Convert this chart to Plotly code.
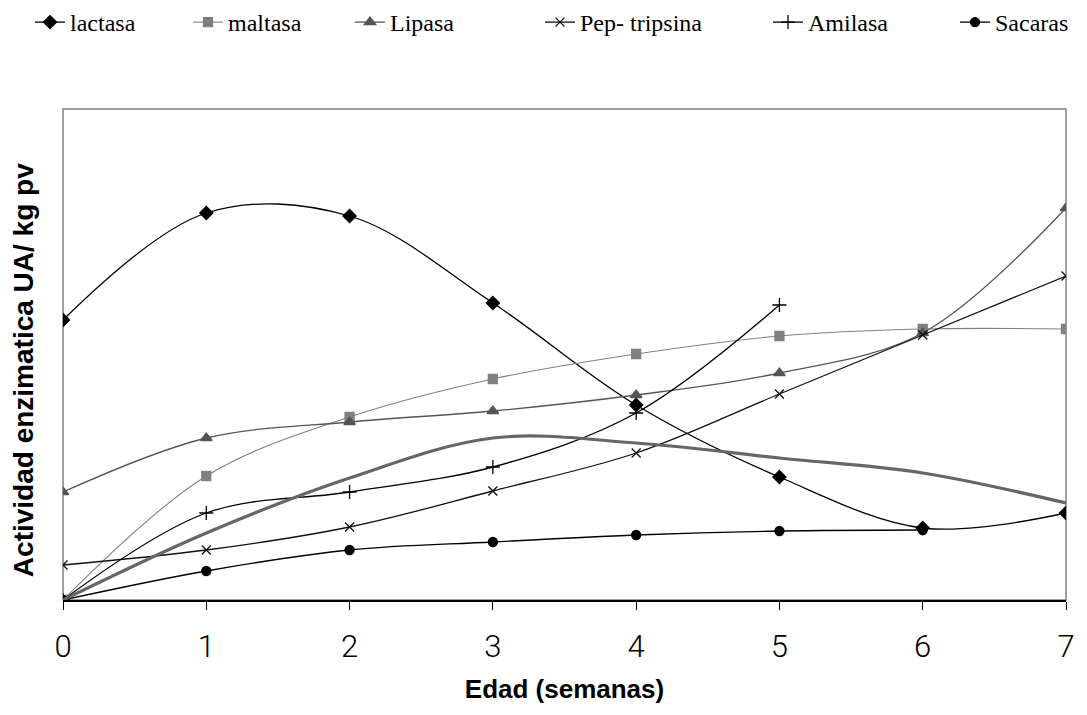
import plotly.graph_objects as go

semanas = [0, 1, 2, 3, 4, 5, 6, 7]

lactasa = [280, 387, 384, 297, 195, 123, 72, 87]
maltasa = [0, 124, 183, 221, 246, 264, 271, 271]
lipasa = [108, 162, 178, 189, 205, 227, 267, 392]
pep_tripsina = [35, 50, 73, 109, 147, 206, 265, 324]
amilasa = [0, 87, 108, 133, 187, 295]
sacarasa = [0, 29, 50, 58, 65, 69, 70]
total = [0, 67, 122, 162, 157, 142, 127, 97]

W, H = 1087, 715
fig = go.Figure()

# each legend entry gets its own legend box so the row spans the full width
leyenda_x = {"legend": 30, "legend2": 188, "legend3": 350,
             "legend4": 540, "legend5": 768, "legend6": 955}

def serie(nombre, y, color, simbolo, size=9, ancho=1.3, leyenda=None):
    fig.add_trace(go.Scatter(
        x=semanas[:len(y)], y=y, name=nombre,
        mode="lines+markers" if simbolo else "lines",
        line=dict(color=color, width=ancho, shape="spline", smoothing=1.0),
        marker=dict(symbol=simbolo or "circle", size=size, color=color,
                    line=dict(color=color, width=1.3)),
        showlegend=leyenda is not None,
        legend=leyenda or "legend",
    ))

serie("lactasa", lactasa, "#000000", "diamond", 10, leyenda="legend")
serie("maltasa", maltasa, "#808080", "square", 9, ancho=1.1, leyenda="legend2")
serie("Lipasa", lipasa, "#555555", "triangle-up", 10, leyenda="legend3")
serie("Pep- tripsina", pep_tripsina, "#111111", "x-thin", 9, leyenda="legend4")
serie("Amilasa", amilasa, "#000000", "cross-thin", 10, leyenda="legend5")
serie("Sacaras", sacarasa, "#000000", "circle", 9, leyenda="legend6")
serie("Total", total, "#666666", None, ancho=3.2)

leg_font = dict(family="Liberation Serif, serif", size=24, color="#000")
for key, px in leyenda_x.items():
    fig.update_layout({key: dict(
        orientation="h", x=px / W, xanchor="left", xref="container",
        y=1.0, yref="container", yanchor="top",
        font=leg_font, bgcolor="rgba(0,0,0,0)", itemwidth=30,
    )})

tick_font = dict(family="Roboto, Liberation Sans, sans-serif",
                 size=31, color="#000", weight=300)

fig.update_layout(
    width=W, height=H,
    margin=dict(l=63, r=17, t=109, b=115),
    plot_bgcolor="white", paper_bgcolor="white",
    showlegend=True,
    xaxis=dict(
        range=[0, 7], tickmode="array", tickvals=semanas,
        ticks="outside", ticklen=8, tickcolor="#000", tickwidth=1,
        tickfont=tick_font, ticklabelstandoff=10,
        showgrid=False, zeroline=False,
        showline=True, linecolor="#000", linewidth=1.5,
        title=dict(text="<b>Edad (semanas)</b>",
                   font=dict(family="Liberation Sans", size=26, color="#000"),
                   standoff=16),
    ),
    yaxis=dict(
        range=[0, 491], showticklabels=False, ticks="",
        showgrid=False, zeroline=False, showline=False,
    ),
    shapes=[dict(type="rect", xref="paper", yref="paper",
                 x0=0, x1=1, y0=0, y1=1, layer="below",
                 line=dict(color="#808080", width=1.5))],
    annotations=[dict(
        text="<b>Actividad enzimatica UA/ kg pv</b>", textangle=-90,
        xref="paper", yref="paper", x=(23 - 63) / 1007, y=(600 - 370) / 491,
        xanchor="center", yanchor="middle", showarrow=False,
        font=dict(family="Liberation Sans", size=28, color="#000"),
    )],
)

fig.write_html("out.html")
